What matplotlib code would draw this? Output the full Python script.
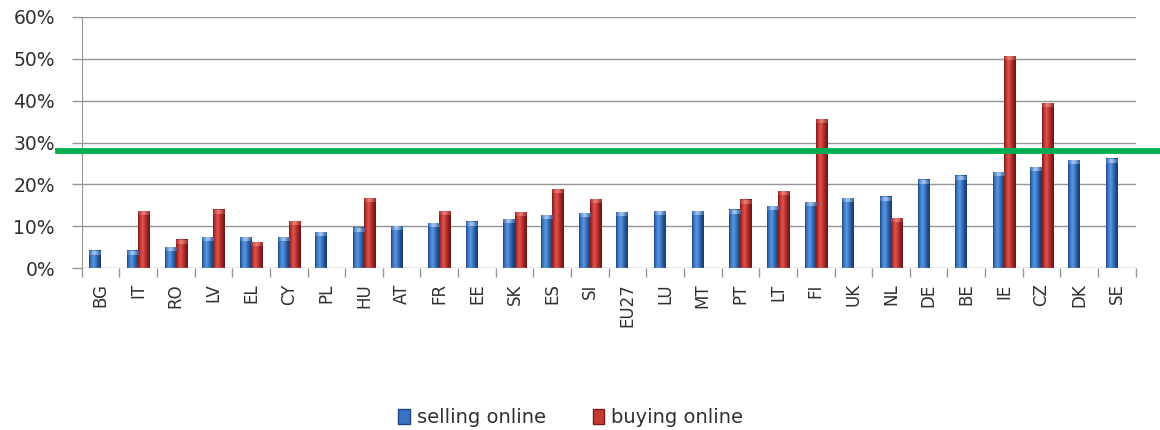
import numpy as np
import matplotlib
matplotlib.use("Agg")
import matplotlib.pyplot as plt
from matplotlib.colors import LinearSegmentedColormap
from matplotlib.patches import Patch

countries = ["BG", "IT", "RO", "LV", "EL", "CY", "PL", "HU", "AT", "FR", "EE", "SK",
             "ES", "SI", "EU27", "LU", "MT", "PT", "LT", "FI", "UK", "NL", "DE", "BE",
             "IE", "CZ", "DK", "SE"]
selling_online = [4.1, 4.1, 4.9, 7.3, 7.3, 7.3, 8.5, 9.6, 10.0, 10.7, 11.0, 11.7,
                  12.5, 13.0, 13.3, 13.6, 13.6, 13.9, 14.8, 15.7, 16.7, 17.0, 21.1, 22.0,
                  22.9, 24.0, 25.8, 26.1]
buying_online = [None, 13.6, 6.7, 13.9, 6.1, 11.2, None, 16.7, None, 13.6, None, 13.3,
                 18.8, 16.4, None, None, None, 16.3, 18.3, 35.6, None, 11.9, None, None,
                 50.5, 39.4, None, None]
target_level = 28.0
y_ticks = [0, 10, 20, 30, 40, 50, 60]

fig = plt.figure(figsize=(11.6, 4.3), dpi=100)
ax = fig.add_axes([0.0704, 0.3767, 0.9086, 0.5838])

bar_w = 1 / 3.4
x = np.arange(len(countries))

blue_cmap = LinearSegmentedColormap.from_list(
    "blue_cyl", ["#1d4682", "#3f7fcf", "#5b95dc", "#3a74c0", "#234f8e", "#183a6a"])
red_cmap = LinearSegmentedColormap.from_list(
    "red_cyl", ["#7e1919", "#c53a35", "#dc5650", "#bf332e", "#8f2020", "#6a1414"])
grad = np.linspace(0, 1, 64).reshape(1, -1)


def cylinder_bars(ax, xs, vals, cmap, edge, light):
    cap_cmap = LinearSegmentedColormap.from_list("cap", [edge, light, edge])
    for xc, v in zip(xs, vals):
        if v is None:
            continue
        left, right = xc - bar_w / 2, xc + bar_w / 2
        ax.imshow(grad, cmap=cmap, aspect="auto", extent=(left, right, 0, v),
                  zorder=3, interpolation="bilinear")
        # lighter rounded cap at the top of each bar
        cap = min(0.9, v * 0.25)
        ax.imshow(grad, cmap=cap_cmap, aspect="auto", extent=(left, right, v - cap, v),
                  zorder=3.1, alpha=0.55, interpolation="bilinear")


cylinder_bars(ax, x - bar_w / 2, selling_online, blue_cmap, "#3f7fcf", "#ffffff")
cylinder_bars(ax, x + bar_w / 2, buying_online, red_cmap, "#c53a35", "#f5b0aa")

ax.set_xlim(-0.5, len(countries) - 0.5)
ax.set_ylim(0, 60)

for yv in y_ticks[1:]:
    ax.axhline(yv, color="#969696", lw=1.0, zorder=1)
ax.set_yticks(y_ticks)
ax.set_yticklabels([f"{v}%" for v in y_ticks], fontsize=13.5, color="#303030")
ax.tick_params(axis="y", length=7.2, color="#969696", width=1.0, pad=12)

ax.set_xticks(x)
ax.set_xticklabels(countries, rotation=90, fontsize=12, color="#303030")
ax.set_xticks(np.arange(len(countries) + 1) - 0.5, minor=True)
ax.tick_params(axis="x", which="major", length=0, pad=11)
ax.tick_params(axis="x", which="minor", length=6.5, color="#969696", width=1.0)

for side in ("top", "right", "bottom"):
    ax.spines[side].set_visible(False)
ax.spines["left"].set_color("#969696")
ax.axhline(0, color="#969696", lw=1.0, zorder=4)

ax.axhline(target_level, xmin=-0.0225, xmax=1.03, color="#00b050", lw=4.2,
           zorder=5, clip_on=False)

handles = [Patch(facecolor="#3a74c0", edgecolor="#1d4682", label="selling online"),
           Patch(facecolor="#c53a35", edgecolor="#7e1919", label="buying online")]
fig.legend(handles=handles, loc="center", bbox_to_anchor=(0.492, 0.028), ncol=2,
           frameon=False, fontsize=14, handlelength=0.6, handleheight=0.8,
           handletextpad=0.35, columnspacing=2.4, labelcolor="#303030")

fig.savefig("out.png", dpi=100)
